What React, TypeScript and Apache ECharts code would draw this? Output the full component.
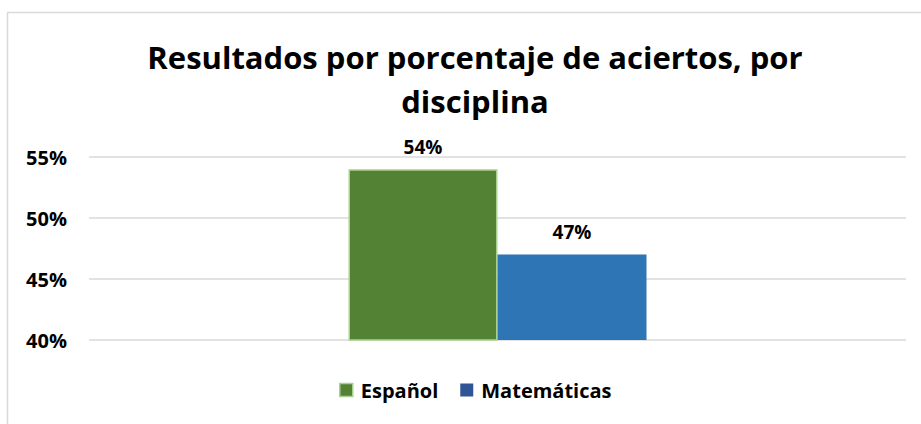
import React, { useEffect, useRef } from "react";
import * as echarts from "echarts";

const titleText = "Resultados por porcentaje de aciertos, por\ndisciplina";
const categories = ["Disciplina"];
const seriesNames = ["Español", "Matemáticas"];
const espanolValues = [54];
const matematicasValues = [47];
const yTicks = { min: 40, max: 55, interval: 5 };

const FONT = "Open Sans";

export default function App() {
  const ref = useRef<HTMLDivElement>(null);
  useEffect(() => {
    if (!ref.current) return;
    const chart = echarts.init(ref.current, undefined, { renderer: "svg" });
    const labelStyle = {
      show: true,
      position: "top" as const,
      distance: 13,
      formatter: "{c}%",
      color: "#000",
      fontFamily: FONT,
      fontWeight: "bold" as const,
      fontSize: 19,
    };
    chart.setOption({
      animation: false,
      backgroundColor: "#ffffff",
      title: {
        text: titleText,
        left: 470,
        textAlign: "center",
        top: 30,
        textStyle: {
          fontFamily: FONT,
          fontWeight: "bold",
          fontSize: 31,
          lineHeight: 44,
          color: "#000",
        },
      },
      graphic: [
        {
          type: "polyline",
          shape: { points: [[7.5, 430], [7.5, 12.5], [930, 12.5]] },
          style: { fill: "none", stroke: "#d9d9d9", lineWidth: 1.5 },
          silent: true,
        },
      ],
      grid: { left: 89, right: 15, top: 157, bottom: 84, containLabel: false },
      legend: {
        bottom: 19,
        left: 334,
        itemWidth: 13,
        itemHeight: 13,
        itemGap: 22,
        icon: "rect",
        textStyle: {
          fontFamily: FONT,
          fontWeight: "bold",
          fontSize: 20,
          color: "#000",
          padding: [0, 0, 0, 3],
        },
        data: [
          {
            name: seriesNames[0],
            itemStyle: { color: "#548235", borderColor: "#A9D18E", borderWidth: 1.5 },
          },
          { name: seriesNames[1], itemStyle: { color: "#2F5597" } },
        ],
      },
      xAxis: {
        type: "category",
        data: categories,
        axisLine: { show: false },
        axisTick: { show: false },
        axisLabel: { show: false },
      },
      yAxis: {
        type: "value",
        min: yTicks.min,
        max: yTicks.max,
        interval: yTicks.interval,
        axisLine: { show: false },
        axisTick: { show: false },
        axisLabel: {
          formatter: "{value}%",
          color: "#000",
          fontFamily: FONT,
          fontWeight: "bold",
          fontSize: 20,
          margin: 22,
        },
        splitLine: { lineStyle: { color: "#d9d9d9", width: 1.5 } },
      },
      series: [
        {
          name: seriesNames[0],
          type: "bar",
          data: espanolValues,
          barWidth: 149,
          barGap: "0%",
          itemStyle: { color: "#548235", borderColor: "#A9D18E", borderWidth: 1.5 },
          label: labelStyle,
        },
        {
          name: seriesNames[1],
          type: "bar",
          data: matematicasValues,
          barWidth: 149,
          barGap: "0%",
          itemStyle: { color: "#2E75B6" },
          label: labelStyle,
        },
      ],
    });
    return () => chart.dispose();
  }, []);
  return (
    <div
      ref={ref}
      style={{ position: "fixed", left: 0, top: 0, width: 921, height: 424 }}
    />
  );
}
